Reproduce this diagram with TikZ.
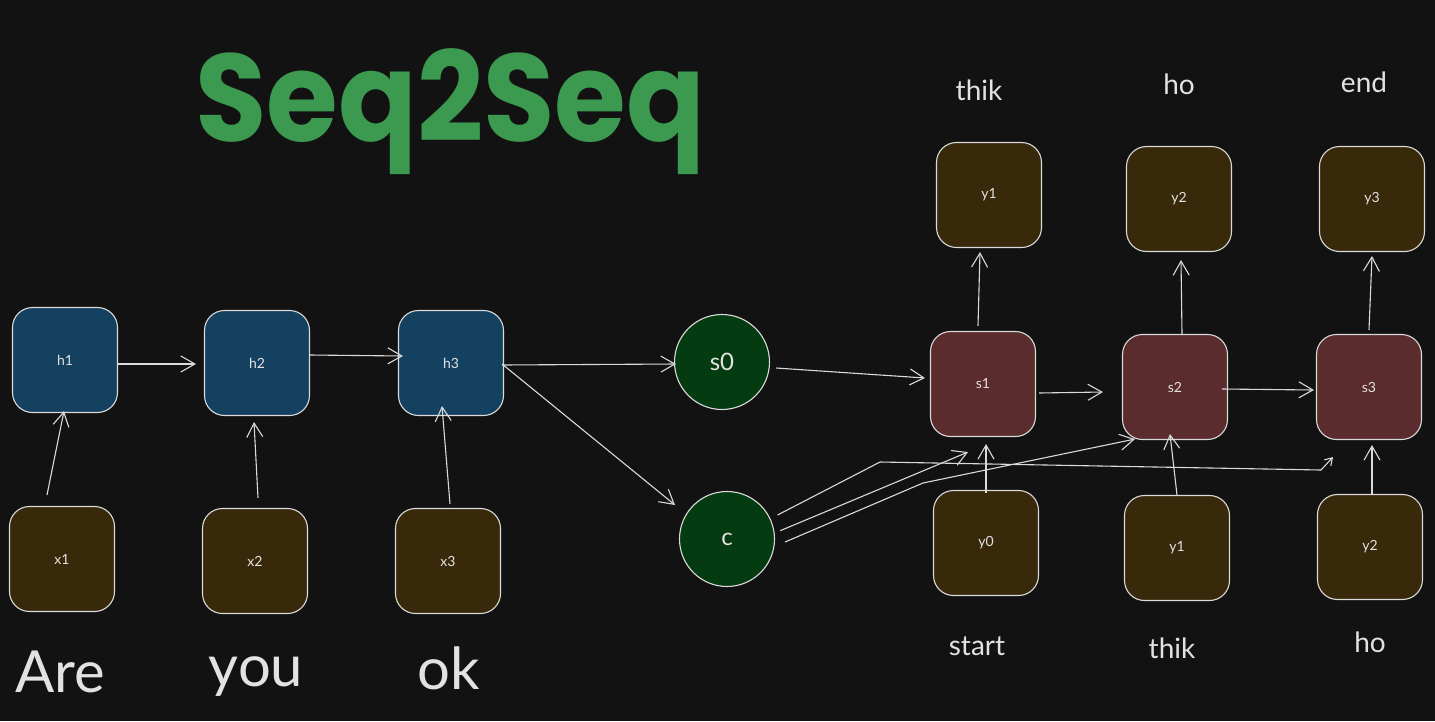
\documentclass[tikz,border=0pt]{standalone}
\usepackage{fontspec}
\usetikzlibrary{arrows.meta}
\setmainfont{Lato}
\newfontfamily\titlefont{Poppins}[BoldFont=* Bold]
\definecolor{bgc}{HTML}{121212}
\definecolor{blueF}{HTML}{154160}
\definecolor{brownF}{HTML}{38290A}
\definecolor{redF}{HTML}{5A2C2E}
\definecolor{greenF}{HTML}{053B10}
\definecolor{titleG}{HTML}{3B9A4F}
\definecolor{strokeC}{HTML}{DADADA}
\definecolor{textC}{HTML}{E2E2E2}
\begin{document}
\begin{tikzpicture}[x=1pt,y=-1pt,
  boxbase/.style={draw=strokeC,line width=1.1pt,rounded corners=20pt,minimum width=105pt,minimum height=105pt,inner sep=0pt,text=textC,font=\fontsize{14}{16}\selectfont},
  hbox/.style={boxbase,fill=blueF},
  xbox/.style={boxbase,fill=brownF},
  sbox/.style={boxbase,fill=redF},
  ctx/.style={circle,draw=strokeC,line width=1.1pt,fill=greenF,minimum size=95pt,inner sep=0pt,text=textC,font=\fontsize{24}{26}\selectfont},
  word/.style={anchor=base,text=textC,inner sep=0pt,font=\fontsize{28}{30}\selectfont},
  bigword/.style={anchor=base,text=textC,inner sep=0pt,font=\fontsize{58}{60}\selectfont},
  arr/.style={draw=strokeC,line width=1.1pt,-{Straight Barb[length=14pt,width=16pt,line width=1.1pt]}},
  smallarr/.style={draw=strokeC,line width=1.1pt,-{Straight Barb[length=7pt,width=9pt,line width=1.1pt]}}
]
\fill[bgc] (0,0) rectangle (1435,721);
\useasboundingbox (0,0) rectangle (1435,721);

% title
\node[anchor=base west,inner sep=0pt,text=titleG] (title) at (195,141) {\resizebox*{510pt}{126pt}{\titlefont\bfseries Seq2Seq}};

% encoder
\node[hbox] (h1) at (65,360) {h1};
\node[hbox] (h2) at (257,363) {h2};
\node[hbox] (h3) at (451,363) {h3};
\node[xbox] (x1) at (62,559) {x1};
\node[xbox] (x2) at (255,561) {x2};
\node[xbox] (x3) at (448,561) {x3};

% context
\node[ctx] (s0) at (722,362) {s0};
\node[ctx] (c) at (727,539) {c};

% decoder
\node[xbox] (yt1) at (989,195) {y1};
\node[xbox] (yt2) at (1179,199) {y2};
\node[xbox] (yt3) at (1372,199) {y3};
\node[sbox] (s1) at (983,384) {s1};
\node[sbox] (s2) at (1175,387) {s2};
\node[sbox] (s3) at (1369,387) {s3};
\node[xbox] (y0) at (986,543) {y0};
\node[xbox] (yb1) at (1177,548) {y1};
\node[xbox] (yb2) at (1370,547) {y2};

% words
\node[word] (wt1) at (979,100) {thik};
\node[word] (wt2) at (1179,94) {ho};
\node[word] (wt3) at (1364,92) {end};
\node[word] (wb0) at (977,655) {start};
\node[word] (wb1) at (1172,658) {thik};
\node[word] (wb2) at (1370,652) {ho};
\node[bigword] (are) at (60,692) {Are};
\node[bigword] (you) at (256,686) {you};
\node[bigword] (ok) at (449,689) {ok};

% encoder arrows
\draw[arr] ([yshift=-4pt]h1.east) -- ([xshift=-8pt,yshift=-1pt]h2.west);
\draw[arr] ([yshift=8pt]h2.east) -- ([xshift=5pt,yshift=7pt]h3.west);
\draw[arr] ([xshift=-15pt,yshift=11pt]x1.north) -- ([xshift=-1pt,yshift=2pt]h1.south);
\draw[arr] ([xshift=3pt,yshift=10pt]x2.north) -- ([xshift=-3pt,yshift=-6pt]h2.south);
\draw[arr] ([xshift=2pt,yshift=4pt]x3.north) -- ([xshift=-9pt,yshift=10pt]h3.south);

% to context
\draw[arr] ([xshift=-2pt,yshift=-2pt]h3.east) -- ([xshift=2pt,yshift=-2pt]s0.west);
\draw[arr] ([xshift=-2pt,yshift=-1pt]h3.east) -- ([xshift=-18pt]c.north west);

% decoder arrows
\draw[arr] ([xshift=6pt,yshift=-6pt]s0.east) -- ([xshift=-5pt,yshift=6pt]s1.west);
\draw[arr] ([xshift=3pt,yshift=-9pt]s1.east) -- ([xshift=-19pt,yshift=-5pt]s2.west);
\draw[arr] ([xshift=-6pt,yshift=-2pt]s2.east) -- ([xshift=-2pt,yshift=-3pt]s3.west);
\draw[arr] ([xshift=-5pt,yshift=5pt]s1.north) -- ([xshift=-9pt,yshift=-4pt]yt1.south);
\draw[arr] ([xshift=7pt]s2.north) -- ([xshift=2pt,yshift=-8pt]yt2.south);
\draw[arr] ([yshift=4pt]s3.north) -- ([yshift=-4pt]yt3.south);
\draw[arr] ([yshift=-3pt]y0.north) -- ([xshift=3pt,yshift=-7pt]s1.south);
\draw[arr] (yb1.north) -- ([xshift=-5pt,yshift=6pt]s2.south);
\draw[arr] ([xshift=2pt]yb2.north) -- ([xshift=3pt,yshift=-5pt]s3.south);

% context to decoder
\draw[smallarr] ([xshift=9pt]c.30) -- (880,462) -- (1321,470) -- ([xshift=-36pt,yshift=-17pt]s3.south);
\draw[arr] ([xshift=6pt]c.10) -- ([xshift=-15pt,yshift=-15pt]s1.south);
\draw[arr] ([xshift=10pt,yshift=-3pt]c.east) -- (923,483) -- ([xshift=-40pt,yshift=1pt]s2.south);
\end{tikzpicture}
\end{document}
